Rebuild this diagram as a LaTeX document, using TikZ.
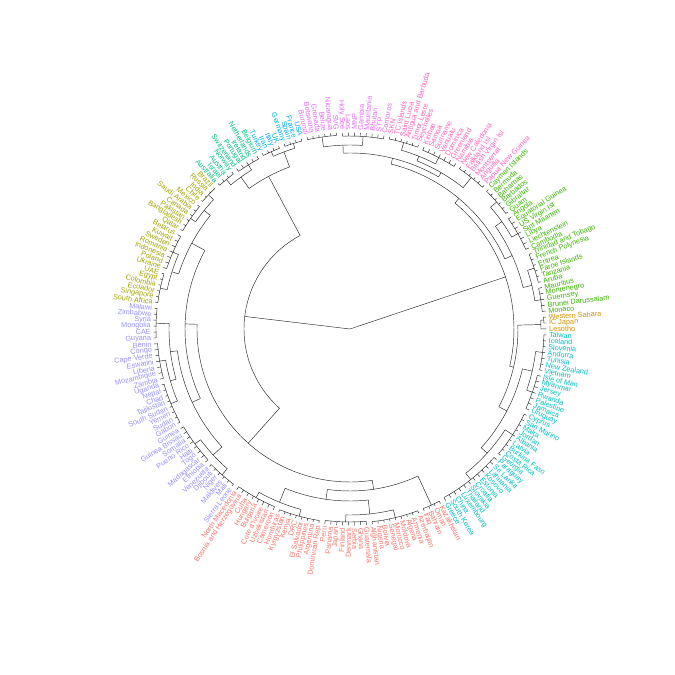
\documentclass[tikz,border=0pt]{standalone}
\usepackage{fontspec}
\setmainfont{Liberation Sans}
\definecolor{cO}{HTML}{D89000}
\definecolor{cC}{HTML}{00BFC4}
\definecolor{cR}{HTML}{F8766D}
\definecolor{cP}{HTML}{9590FF}
\definecolor{cY}{HTML}{A3A500}
\definecolor{cT}{HTML}{00BF7D}
\definecolor{cB}{HTML}{00B0F6}
\definecolor{cV}{HTML}{E76BF3}
\definecolor{cK}{HTML}{FF62BC}
\definecolor{cG}{HTML}{39B600}
\newcommand\DAng[2]{\pgfmathsetmacro#1{3.5-(#2)*1.7391304}}
\newcommand\DRad[3]{\DAng\tmpa{#1}\draw[dl] (\tmpa:#2pt) -- (\tmpa:#3pt);}
\newcommand\DArc[3]{\DAng\tmpa{#1}\DAng\tmpb{#2}\draw[dl] (\tmpa:#3pt) arc[start angle=\tmpa, end angle=\tmpb, radius=#3pt];}
\newcommand\DComb[3]{\DArc{#1}{#2}{#3}\foreach \k in {#1,...,#2}{\DRad{\k}{#3}{196.5}}}
% x1 r1 x2 r2 r
\newcommand\DJoin[5]{\DArc{#1}{#3}{#5}\DRad{#1}{#5}{#2}\DRad{#3}{#5}{#4}}
\begin{document}
\begin{tikzpicture}[x=1pt,y=1pt,
  dl/.style={line width=0.45pt,draw=black!85},
  lab/.style={inner sep=0pt,font=\fontsize{7.3}{8}\selectfont}]
\fill[white] (-350pt,-346pt) rectangle (325pt,329pt);
\useasboundingbox (-350pt,-346pt) rectangle (325pt,329pt);
% ---- orange
\DComb{0}{1}{194}
\DJoin{0.5}{194}{2}{196.5}{191}
% ---- cyan
\DComb{3}{9}{194}\DComb{10}{16}{193}\DComb{17}{25}{194}\DComb{26}{37}{193}
\DJoin{6}{194}{13}{193}{187}
\DJoin{21}{194}{31.5}{193}{185}
\DJoin{9.5}{187}{26.25}{185}{177}
\DJoin{1.25}{191}{17.875}{177}{168}
% ---- red
\DComb{38}{41}{194}
\DComb{42}{50}{194}\DComb{51}{58}{193}\DComb{59}{66}{194}\DComb{67}{74}{193}
\DJoin{46}{194}{54.5}{193}{186}
\DJoin{62.5}{194}{70.5}{193}{187}
\DJoin{50.25}{186}{66.5}{187}{172}
\DJoin{39.5}{194}{58.375}{172}{162}
% ---- purple
\DComb{75}{80}{194}\DComb{81}{88}{193}\DComb{89}{96}{194}\DComb{97}{103}{193}\DComb{104}{109}{194}
\DJoin{77.5}{194}{84.5}{193}{186}
\DJoin{92.5}{194}{100}{193}{187}
\DJoin{96.25}{187}{106.5}{194}{181}
\DJoin{81}{186}{101.375}{181}{174}
% ---- olive
\DComb{110}{115}{194}\DComb{116}{122}{193}\DComb{123}{128}{194}\DComb{129}{132}{195}
\DJoin{112.5}{194}{119}{193}{187}
\DJoin{125.5}{194}{130.5}{195}{188}
\DJoin{115.75}{187}{128}{188}{180}
\DJoin{91.1875}{174}{121.875}{180}{165}
\DJoin{48.9375}{162}{106.53}{165}{153}
% ---- teal / blue
\DComb{133}{136}{194}\DComb{137}{141}{193}
\DJoin{134.5}{194}{139}{193}{187}
\DComb{142}{145}{194}\DComb{146}{149}{194}
\DJoin{143.5}{194}{147.5}{194}{189}
\DJoin{136.75}{187}{145.5}{189}{173}
\DJoin{77.73}{153}{141.125}{173}{106}
% ---- violet / pink
\DComb{150}{155}{194}\DComb{156}{163}{193}
\DJoin{152.5}{194}{159.5}{193}{184}
\DComb{164}{169}{194}\DComb{170}{176}{193}\DComb{177}{182}{194}
\DJoin{166.5}{194}{173}{193}{186}
\DJoin{169.75}{186}{179.5}{194}{181}
\DJoin{156}{184}{174.625}{181}{176}
% ---- green
\DComb{183}{188}{194}\DComb{189}{195}{193}\DComb{196}{201}{194}\DComb{202}{206}{193}
\DJoin{185.5}{194}{192}{193}{186}
\DJoin{198.5}{194}{204}{193}{187}
\DJoin{188.75}{186}{201.25}{187}{178}
\DJoin{165.31}{176}{195}{178}{170}
\DJoin{180.16}{170}{216.5625}{168}{164}
% ---- root
\coordinate (root) at (0,0);
\DRad{198.36}{0}{164}
\DRad{109.43}{0}{106}
% ---- labels
\foreach \nm/\cl [count=\i from 0] in {
Western Sahara/cO, IC Japan/cO, Lesotho/cO,
Taiwan/cC, Iceland/cC, Slovenia/cC, Andorra/cC, Tunisia/cC, New Zealand/cC, Vietnam/cC, Isle of Man/cC, Myanmar/cC, Jersey/cC, Rwanda/cC, Palestine/cC, Jamaica/cC, Uruguay/cC, Cyprus/cC, San Marino/cC, Malta/cC, Jordan/cC, Albania/cC, Latvia/cC, Burkina Faso/cC, Costa Rica/cC, Georgia/cC, Paraguay/cC, Sri Lanka/cC, Lithuania/cC, Kosovo/cC, Estonia/cC, Croatia/cC, Slovakia/cC, Thailand/cC, Luxembourg/cC, China/cC, South Korea/cC, Greece/cC,
Kazakhstan/cR, Oman/cR, Bahrain/cR, Iraq/cR, Azerbaijan/cR, Armenia/cR, Algeria/cR, Moldova/cR, Morocco/cR, Senegal/cR, Bolivia/cR, Nigeria/cR, Afghanistan/cR, Guatemala/cR, Ghana/cR, Serbia/cR, Denmark/cR, Finland/cR, Japan/cR, Panama/cR, Peru/cR, Dominican Rep/cR, Argentina/cR, Philippines/cR, El Salvador/cR, DRC/cR, Kenya/cR, Kyrgyzstan/cR, Honduras/cR, Cameroon/cR, Uzbekistan/cR, Cote d'Ivoire/cR, Bulgaria/cR, Hungary/cR, Cuba/cR, Bosnia and Herzegovina/cR, North Macedonia/cR,
Sierra Leone/cP, Mali/cP, Maldives/cP, Niger/cP, Djibouti/cP, Venezuela/cP, Ethiopia/cP, Madagascar/cP, Togo/cP, Haiti/cP, Puerto Rico/cP, Somalia/cP, Guinea Bissau/cP, Guinea/cP, Gabon/cP, Sudan/cP, Yemen/cP, South Sudan/cP, Tajikistan/cP, Chad/cP, Nepal/cP, Uganda/cP, Zambia/cP, Mozambique/cP, Liberia/cP, Eswatini/cP, Cape Verde/cP, Congo/cP, Benin/cP, Guyana/cP, CAE/cP, Mongolia/cP, Syria/cP, Zimbabwe/cP, Malawi/cP,
South Africa/cY, Singapore/cY, Ecuador/cY, Colombia/cY, Egypt/cY, UAE/cY, Ukraine/cY, Poland/cY, Indonesia/cY, Romania/cY, Sweden/cY, Kuwait/cY, Belarus/cY, Qatar/cY, Bangladesh/cY, Pakistan/cY, Canada/cY, Saudi Arabia/cY, Mexico/cY, Chile/cY, India/cY, Russia/cY, Brazil/cY,
Australia/cT, Israel/cT, Austria/cT, Norway/cT, Switzerland/cT, Portugal/cT, Ireland/cT, Netherlands/cT, Belgium/cT,
Turkey/cB, Iran/cB, Italy/cB, UK/cB, Germany/cB, Spain/cB, France/cB, USA/cB,
Burundi/cV, Botswana/cV, Grenada/cV, Belize/cV, Nicaragua/cV, SVG/cV, Holy See/cV, Laos/cV, MNP/cV, Gambia/cV, Mauritania/cV, Bhutan/cV, STP/cV, Comoros/cV,
SKN/cK, TC Islands/cK, Saint Lucia/cK, Antigua and Barbuda/cK, Timor Leste/cK, Seychelles/cK, Kiribati/cK, Samoa/cK, Suriname/cK, Vanuatu/cK, Dominica/cK, Greenland/cK, Namibia/cK, New Caledonia/cK, Falkland Isl/cK, British Virgin Isl/cK, Montserrat/cK, Anguilla/cK, Papua New Guinea/cK,
Cayman Islands/cG, Bermuda/cG, Bahamas/cG, Barbados/cG, Gibraltar/cG, Guam/cG, Angola/cG, Equatorial Guinea/cG, US Virgin Isl/cG, Sint Maarten/cG, Libya/cG, Liechtenstein/cG, Cambodia/cG, Trinidad and Tobago/cG, French Polynesia/cG, Eritrea/cG, Faroe Islands/cG, Tanzania/cG, Aruba/cG, Mauritius/cG, Montenegro/cG, Guernsey/cG, Brunei Darussalam/cG, Monaco/cG}{
  \pgfmathsetmacro\a{3.5-\i*1.7391304}
  \pgfmathtruncatemacro\side{(\a < -90) && (\a > -270)}
  \ifnum\side=1
    \pgfmathsetmacro\rot{\a+180}
    \node[lab,text=\cl,rotate=\rot,anchor=east] (l\i) at (\a:199pt) {\nm};
  \else
    \node[lab,text=\cl,rotate=\a,anchor=west] (l\i) at (\a:199pt) {\nm};
  \fi}
\end{tikzpicture}
\end{document}
